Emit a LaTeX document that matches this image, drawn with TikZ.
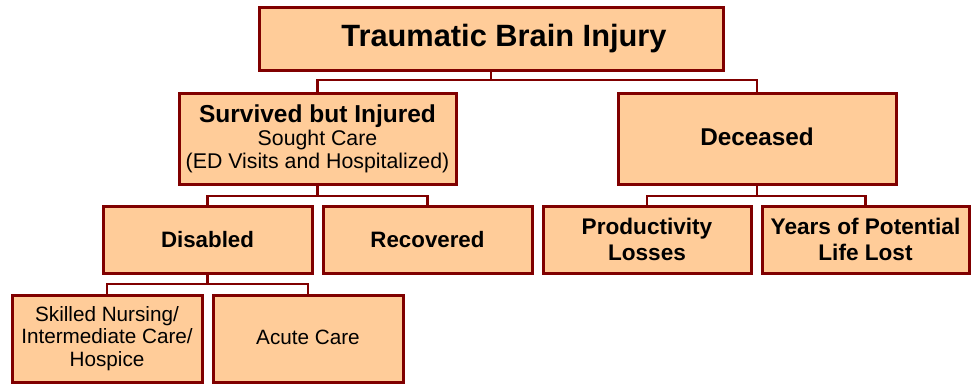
\documentclass[tikz,border=0pt]{standalone}
\usepackage{fontspec}
\setmainfont{Liberation Sans}
\definecolor{boxfill}{HTML}{FFCC99}
\definecolor{boxline}{HTML}{800000}
\tikzset{
  box/.style={draw=boxline, fill=boxfill, line width=3pt, rectangle, inner sep=0pt, align=center, text=black},
  conn/.style={draw=boxline, line width=2.6pt},
}
\newcommand{\fs}[2]{\fontsize{#1}{#2}\selectfont}
\begin{document}
\begin{tikzpicture}[x=1pt,y=-1pt]
\useasboundingbox (0,0) rectangle (971,383);
% nodes
\node[box, minimum width=464pt, minimum height=63pt, font=\fs{30.8}{34}\bfseries] (tbi) at (491,38.5) {\hspace*{26pt}Traumatic Brain Injury};
\node[box, minimum width=277pt, minimum height=91pt, font=\fs{21.3}{23}] (surv) at (317.5,138.5) {{\fs{24.5}{23}\bfseries Survived but Injured}\\Sought Care\\(ED Visits and Hospitalized)};
\node[box, minimum width=278pt, minimum height=91pt, font=\fs{24.3}{28}\bfseries] (dec) at (757,138.5) {\raisebox{3pt}{Deceased}};
\node[box, minimum width=209pt, minimum height=67pt, font=\fs{22.3}{26}\bfseries] (dis) at (207.5,239.5) {Disabled};
\node[box, minimum width=209pt, minimum height=67pt, font=\fs{22.3}{26}\bfseries] (rec) at (427.5,239.5) {Recovered};
\node[box, minimum width=208pt, minimum height=67pt, font=\fs{22.6}{26.5}\bfseries] (prod) at (647,239.5) {Productivity\\Losses};
\node[box, minimum width=207pt, minimum height=67pt, font=\fs{22.6}{26.5}\bfseries] (ypll) at (865.5,239.5) {Years of Potential\\Life Lost};
\node[box, minimum width=190pt, minimum height=87pt, font=\fs{20.7}{22.8}] (skil) at (107,338.5) {Skilled Nursing/\\Intermediate Care/\\Hospice};
\node[box, minimum width=190pt, minimum height=87pt, font=\fs{20.7}{22.8}] (acut) at (308,338.5) {\raisebox{2pt}{Acute Care}};
% buses
\coordinate (b1) at (491,80);
\coordinate (b2) at (317.5,196);
\coordinate (b3) at (757,196);
\coordinate (b4) at (207.5,284);
% connectors
\draw[conn] (tbi.south) -- (b1);
\draw[conn] (surv.north) |- (b1) -| (dec.north);
\draw[conn] (surv.south) -- (b2);
\draw[conn] (dis.north) |- (b2) -| (rec.north);
\draw[conn] (dec.south) -- (b3);
\draw[conn] (prod.north) |- (b3) -| (ypll.north);
\draw[conn] (dis.south) -- (b4);
\draw[conn] (skil.north) |- (b4) -| (acut.north);
\end{tikzpicture}
\end{document}
